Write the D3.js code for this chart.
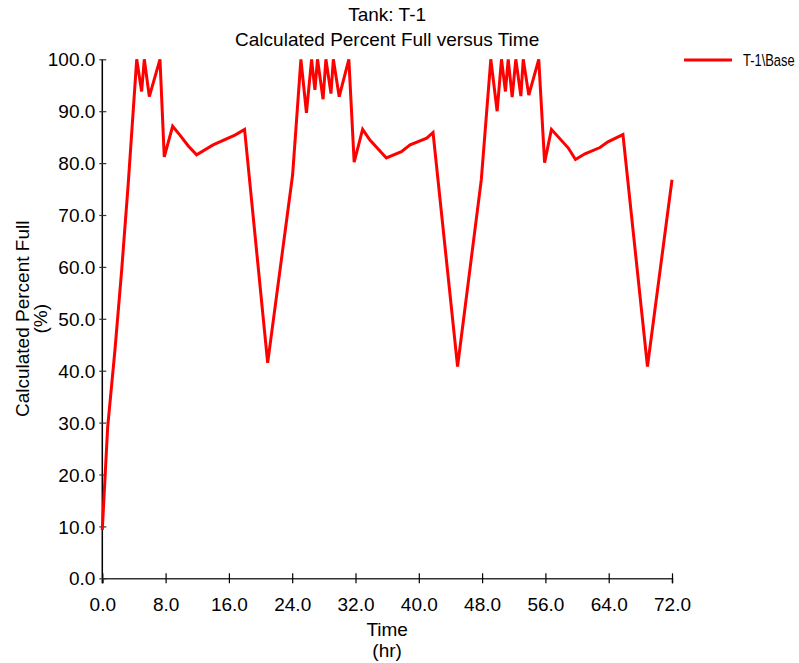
<!DOCTYPE html>
<html>
<head>
<meta charset="utf-8">
<script src="https://cdn.jsdelivr.net/npm/d3@7"></script>
<style>
  body { margin: 0; background: #fff; }
  text { font-family: "Liberation Sans", Arial, sans-serif; fill: #000; }
</style>
</head>
<body>
<svg id="container" width="799" height="663"></svg>
<script>
// Tank T-1, calculated percent full
const timeHr = [
  0, 0.68, 1.6, 2.45, 3.28, 4.35, 4.97, 5.31, 5.94, 7.29, 7.83, 8.89, 9.81, 10.87, 11.92, 14.0, 16.76, 17.98,
  20.9, 24.05,
  25.1, 25.8, 26.45, 26.87, 27.2, 27.9, 28.26, 28.9, 29.2, 29.94, 31.16, 31.83, 32.9, 33.8, 35.9, 37.8, 38.9, 41.0, 41.8,
  44.9, 47.9,
  49.1, 49.9, 50.45, 50.95, 51.3, 51.8, 52.26, 52.9, 53.2, 53.9, 55.16, 55.9, 56.76, 58.9, 59.8, 61.0, 62.9, 63.9, 65.8,
  68.9, 72
];
const percentFull = [
  9.3, 29.2, 44, 59.4, 76.1, 100, 93.8, 100, 92.8, 100, 81.2, 87.1, 85.4, 83.3, 81.6, 83.5, 85.4, 86.5,
  41.5, 77.7,
  100, 89.7, 100, 94.1, 100, 92.3, 100, 93.4, 100, 92.8, 100, 80.2, 86.5, 84.5, 81.0, 82.2, 83.5, 84.8, 85.9,
  40.8, 76.8,
  100, 90.0, 100, 93.8, 100, 92.7, 100, 92.9, 100, 93.1, 100, 80.1, 86.5, 82.9, 80.7, 81.8, 83.0, 84.1, 85.5,
  40.8, 76.8
];
const xTicks = [0, 8, 16, 24, 32, 40, 48, 56, 64, 72];
const yTicks = [0, 10, 20, 30, 40, 50, 60, 70, 80, 90, 100];
const seriesName = "T-1\\Base";
const titleLines = ["Tank: T-1", "Calculated Percent Full versus Time"];
const xTitle = ["Time", "(hr)"];
const yTitle = ["Calculated Percent Full", "(%)"];

const svg = d3.select("#container");
const plotLeft = 102.3, plotRight = 672, plotTop = 59.3, plotBottom = 578.3;
const fontCss = "'Liberation Sans', Arial, sans-serif";

const x = d3.scaleLinear().domain([0, 72]).range([plotLeft, plotRight]);
const y = d3.scaleLinear().domain([0, 100]).range([plotBottom, plotTop]);

svg.append("rect").attr("width", 799).attr("height", 663).attr("fill", "#fff");

// x axis
const gx = svg.append("g")
  .attr("transform", `translate(0,${plotBottom})`)
  .call(d3.axisBottom(x).tickValues(xTicks).tickSizeOuter(0).tickSize(5).tickFormat(d3.format(".1f")));
gx.select(".domain").attr("stroke", "#333").attr("stroke-width", 1.5);
gx.selectAll(".tick line").attr("y1", -5).attr("y2", 5).attr("stroke", "#000").attr("stroke-width", 1.2);
gx.selectAll(".tick text").attr("y", 33).attr("dy", null)
  .style("font-size", "19px").style("font-family", fontCss).attr("fill", "#000");

// y axis
const gy = svg.append("g")
  .attr("transform", `translate(${plotLeft},0)`)
  .call(d3.axisLeft(y).tickValues(yTicks).tickSizeOuter(0).tickSize(3).tickPadding(4).tickFormat(d3.format(".1f")));
gy.select(".domain").attr("stroke", "#000").attr("stroke-width", 1.5).attr("d", `M0,${plotTop}V${plotBottom + 5}`);
gy.selectAll(".tick line").attr("x1", -3).attr("x2", 4).attr("stroke", "#333").attr("stroke-width", 1.2);
gy.selectAll(".tick text").attr("dy", "0.35em")
  .style("font-size", "19px").style("font-family", fontCss).attr("fill", "#000");

// the series
const line = d3.line()
  .x((d, i) => x(timeHr[i]))
  .y(d => y(d));

svg.append("path")
  .datum(percentFull)
  .attr("fill", "none")
  .attr("stroke", "#ff0000")
  .attr("stroke-width", 3)
  .attr("stroke-linejoin", "miter")
  .attr("d", line);

// titles
svg.selectAll(".title")
  .data(titleLines)
  .enter()
  .append("text")
  .attr("class", "title")
  .attr("x", (plotLeft + plotRight) / 2)
  .attr("y", (d, i) => 21 + i * 25)
  .attr("text-anchor", "middle")
  .style("font-size", "19px")
  .text(d => d);

svg.selectAll(".xtitle")
  .data(xTitle)
  .enter()
  .append("text")
  .attr("class", "xtitle")
  .attr("x", (plotLeft + plotRight) / 2)
  .attr("y", (d, i) => 636 + i * 21)
  .attr("text-anchor", "middle")
  .style("font-size", "19px")
  .text(d => d);

svg.selectAll(".ytitle")
  .data(yTitle)
  .enter()
  .append("text")
  .attr("class", "ytitle")
  .attr("transform", (d, i) => `translate(${29 + i * 18},${(plotTop + plotBottom) / 2}) rotate(-90)`)
  .attr("text-anchor", "middle")
  .style("font-size", "19px")
  .text(d => d);

// legend (text squeezed, as in the original)
const legend = svg.append("g");
legend.append("line")
  .attr("x1", 684).attr("x2", 732)
  .attr("y1", 60).attr("y2", 60)
  .attr("stroke", "#ff0000")
  .attr("stroke-width", 3);
legend.append("text")
  .attr("transform", "translate(743,66) scale(0.76,1)")
  .style("font-size", "17px")
  .text(seriesName);
</script>
</body>
</html>
